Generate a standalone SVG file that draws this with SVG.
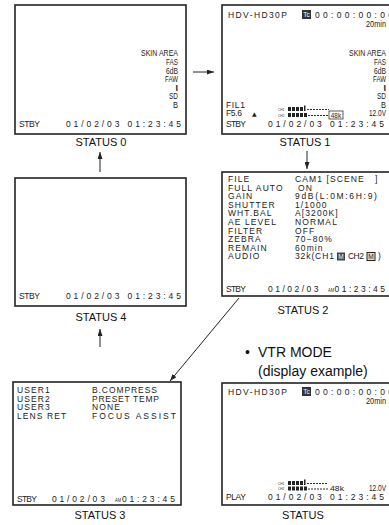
<svg xmlns="http://www.w3.org/2000/svg" width="389" height="525" viewBox="0 0 389 525">
<style>
.box{fill:#fff;stroke:#222;stroke-width:1.6}
.lcd{font-family:"Liberation Sans",Arial,sans-serif;font-size:8.5px;letter-spacing:1.1px;fill:#222}
.cnd{font-family:"Liberation Sans",Arial,sans-serif;font-size:9px;fill:#222;text-anchor:end}
.lbl{font-family:"Liberation Sans",Arial,sans-serif;font-size:11px;fill:#111;text-anchor:middle}
.big{font-family:"Liberation Sans",Arial,sans-serif;font-size:14px;fill:#111}
.tiny{font-family:"Liberation Sans",Arial,sans-serif;font-size:3.2px;fill:#333}
.blk{fill:#222}
.dash{stroke:#333;stroke-width:1;stroke-dasharray:2 1;fill:none}
.con{stroke:#222;stroke-width:1;fill:none}
.sm{font-family:"Liberation Sans",Arial,sans-serif;font-size:6.5px;text-anchor:middle}
</style>
<defs>
<marker id="ah" markerWidth="7" markerHeight="5" refX="7" refY="2.5" orient="auto" markerUnits="userSpaceOnUse">
<path d="M0,0 L7,2.5 L0,5 Z" fill="#222"/>
</marker>
</defs>

<g id="s0">
<rect class="box" x="15" y="5" width="171" height="129"/>
<text class="cnd" x="178" y="56" textLength="37" lengthAdjust="spacingAndGlyphs">SKIN AREA</text>
<text class="cnd" x="178" y="65" textLength="12" lengthAdjust="spacingAndGlyphs">FAS</text>
<text class="cnd" x="178" y="73.5" textLength="12" lengthAdjust="spacingAndGlyphs">6dB</text>
<text class="cnd" x="178" y="82" textLength="13" lengthAdjust="spacingAndGlyphs">FAW</text>
<text class="cnd" x="178" y="90.5" font-weight="bold">I</text>
<text class="cnd" x="178" y="99" textLength="9" lengthAdjust="spacingAndGlyphs">SD</text>
<text class="cnd" x="178" y="107.5" textLength="5" lengthAdjust="spacingAndGlyphs">B</text>
<text class="lcd" x="19" y="127" textLength="22">STBY</text>
<text class="lcd" x="66" y="127" textLength="116">01/02/03 01:23:45</text>
<text class="lbl" x="101" y="146">STATUS 0</text>
</g>

<g id="s1">
<rect class="box" x="222" y="5" width="172" height="129"/>
<text class="lcd" x="228" y="18" textLength="60">HDV-HD30P</text>
<rect x="302" y="10" width="9" height="9" fill="#333"/>
<text class="sm" x="306.5" y="17.3" fill="#fff">Tc</text>
<text class="lcd" x="315" y="18" textLength="79">00:00:00:00</text>
<text class="cnd" x="386" y="27" textLength="20" lengthAdjust="spacingAndGlyphs">20min</text>
<text class="cnd" x="386" y="56" textLength="37" lengthAdjust="spacingAndGlyphs">SKIN AREA</text>
<text class="cnd" x="386" y="65" textLength="12" lengthAdjust="spacingAndGlyphs">FAS</text>
<text class="cnd" x="386" y="73.5" textLength="12" lengthAdjust="spacingAndGlyphs">6dB</text>
<text class="cnd" x="386" y="82" textLength="13" lengthAdjust="spacingAndGlyphs">FAW</text>
<text class="cnd" x="386" y="90.5" font-weight="bold">I</text>
<text class="cnd" x="386" y="99" textLength="9" lengthAdjust="spacingAndGlyphs">SD</text>
<text class="cnd" x="386" y="107.5" textLength="5" lengthAdjust="spacingAndGlyphs">B</text>
<text class="lcd" x="226" y="107.5" textLength="20">FIL1</text>
<text class="lcd" x="226" y="116" textLength="17">F5.6</text>
<text x="252" y="116" font-family="DejaVu Sans,sans-serif" font-size="6" fill="#222">▲</text>
<text class="cnd" x="386" y="116" textLength="17" lengthAdjust="spacingAndGlyphs">12.0V</text>
<text class="tiny" x="278" y="110.5">CH1</text>
<text class="tiny" x="278" y="116.5">CH2</text>
<rect class="blk" x="288" y="107" width="3" height="4"/>
<rect class="blk" x="292" y="107" width="3" height="4"/>
<rect class="blk" x="296" y="107" width="3" height="4"/>
<rect class="blk" x="300" y="107" width="3" height="4"/>
<rect class="blk" x="304" y="105.5" width="1.5" height="5.5"/>
<line class="dash" x1="307" y1="109.5" x2="329" y2="109.5"/>
<rect class="blk" x="288" y="113" width="3" height="4"/>
<rect class="blk" x="292" y="113" width="3" height="4"/>
<rect class="blk" x="296" y="113" width="3" height="4"/>
<rect class="blk" x="300" y="113" width="3" height="4"/>
<rect class="blk" x="304" y="113" width="3" height="4"/>
<line class="dash" x1="308" y1="115.5" x2="329" y2="115.5"/>
<rect x="329" y="111" width="14" height="8" fill="none" stroke="#333" stroke-width="0.8"/>
<text class="sm" x="336" y="117.5" fill="#222">48k</text>
<text class="lcd" x="226" y="127" textLength="21">STBY</text>
<text class="lcd" x="268" y="127" textLength="117">01/02/03 01:23:45</text>
<text class="lbl" x="305" y="146">STATUS 1</text>
</g>

<g id="s2">
<rect class="box" x="222" y="172" width="172" height="124"/>
<text class="lcd" x="228" y="182">FILE</text>
<text class="lcd" x="228" y="190.6">FULL AUTO</text>
<text class="lcd" x="228" y="199.2">GAIN</text>
<text class="lcd" x="228" y="207.8">SHUTTER</text>
<text class="lcd" x="228" y="216.4">WHT.BAL</text>
<text class="lcd" x="228" y="225">AE LEVEL</text>
<text class="lcd" x="228" y="233.6">FILTER</text>
<text class="lcd" x="228" y="242.2">ZEBRA</text>
<text class="lcd" x="228" y="250.8">REMAIN</text>
<text class="lcd" x="228" y="259.4">AUDIO</text>
<text class="lcd" x="295" y="182" xml:space="preserve">CAM1 [SCENE   ]</text>
<text class="lcd" x="298" y="190.6">ON</text>
<text class="lcd" x="295" y="199.2" textLength="83">9dB(L:0M:6H:9)</text>
<text class="lcd" x="295" y="207.8">1/1000</text>
<text class="lcd" x="295" y="216.4">A[3200K]</text>
<text class="lcd" x="295" y="225">NORMAL</text>
<text class="lcd" x="295" y="233.6">OFF</text>
<text class="lcd" x="295" y="242.2">70−80%</text>
<text class="lcd" x="295" y="250.8">60min</text>
<text class="lcd" x="295" y="259.4" textLength="40">32k(CH1</text>
<rect x="337" y="252.5" width="8" height="8" fill="#444"/>
<text class="sm" x="341" y="259" fill="#fff">M</text>
<text class="lcd" x="348" y="259.4" textLength="17">CH2</text>
<rect x="367" y="252.5" width="8" height="8" fill="#ddd" stroke="#222" stroke-width="1"/>
<text class="sm" x="371" y="259" fill="#222">M</text>
<text class="lcd" x="378" y="259.4">)</text>
<text class="lcd" x="226" y="292" textLength="21">STBY</text>
<text class="lcd" x="268" y="292" textLength="51.5">01/02/03</text>
<text x="328" y="291.5" font-family="Liberation Sans,Arial,sans-serif" font-size="5" fill="#222" textLength="6" lengthAdjust="spacingAndGlyphs">AM</text>
<text class="lcd" x="334.5" y="292" textLength="51.5">01:23:45</text>
<text class="lbl" x="303" y="314">STATUS 2</text>
</g>

<g id="s4">
<rect class="box" x="15" y="178" width="171" height="128"/>
<text class="lcd" x="19" y="299" textLength="22">STBY</text>
<text class="lcd" x="66" y="299" textLength="116">01/02/03 01:23:45</text>
<text class="lbl" x="101" y="321">STATUS 4</text>
</g>

<g id="s3">
<rect class="box" x="13" y="382" width="168" height="123"/>
<text class="lcd" x="17" y="393">USER1</text>
<text class="lcd" x="17" y="401.6">USER2</text>
<text class="lcd" x="17" y="410.2">USER3</text>
<text class="lcd" x="17" y="418.8">LENS RET</text>
<text class="lcd" x="92" y="393" textLength="66">B.COMPRESS</text>
<text class="lcd" x="92" y="401.6" textLength="68">PRESET TEMP</text>
<text class="lcd" x="92" y="410.2">NONE</text>
<text class="lcd" x="92" y="418.8" textLength="85">FOCUS ASSIST</text>
<text class="lcd" x="17" y="502" textLength="21">STBY</text>
<text class="lcd" x="52" y="502" textLength="54">01/02/03</text>
<text x="115" y="501.5" font-family="Liberation Sans,Arial,sans-serif" font-size="5" fill="#222" textLength="6" lengthAdjust="spacingAndGlyphs">AM</text>
<text class="lcd" x="122" y="502" textLength="54">01:23:45</text>
<text class="lbl" x="100" y="519">STATUS 3</text>
</g>

<g id="vtr-note">
<text class="big" x="245" y="357">•</text>
<text class="big" x="258" y="357">VTR MODE</text>
<text class="big" x="258" y="376">(display example)</text>
</g>

<g id="vtr">
<rect class="box" x="222" y="383" width="172" height="122"/>
<text class="lcd" x="228" y="395" textLength="60">HDV-HD30P</text>
<rect x="302" y="387" width="9" height="9" fill="#333"/>
<text class="sm" x="306.5" y="394.3" fill="#fff">Tc</text>
<text class="lcd" x="315" y="395" textLength="79">00:00:00:00</text>
<text class="cnd" x="386" y="404" textLength="20" lengthAdjust="spacingAndGlyphs">20min</text>
<text class="tiny" x="278" y="484.5">CH1</text>
<text class="tiny" x="278" y="490">CH2</text>
<rect class="blk" x="288" y="481" width="3" height="4"/>
<rect class="blk" x="292" y="481" width="3" height="4"/>
<rect class="blk" x="296" y="481" width="3" height="4"/>
<rect class="blk" x="300" y="481" width="3" height="4"/>
<rect class="blk" x="304" y="479.5" width="1.5" height="5.5"/>
<line class="dash" x1="307" y1="483.5" x2="328" y2="483.5"/>
<rect class="blk" x="288" y="486.5" width="3" height="4"/>
<rect class="blk" x="292" y="486.5" width="3" height="4"/>
<rect class="blk" x="296" y="486.5" width="3" height="4"/>
<rect class="blk" x="300" y="486.5" width="3" height="4"/>
<rect class="blk" x="304" y="486.5" width="3" height="4"/>
<line class="dash" x1="308" y1="489" x2="328" y2="489"/>
<text x="330" y="491" font-family="Liberation Sans,Arial,sans-serif" font-size="7" fill="#222" textLength="14" lengthAdjust="spacingAndGlyphs">48k</text>
<text class="cnd" x="386" y="491" textLength="17" lengthAdjust="spacingAndGlyphs">12.0V</text>
<text class="lcd" x="226" y="500" textLength="21">PLAY</text>
<text class="lcd" x="268" y="500" textLength="117">01/02/03 01:23:45</text>
<text class="lbl" x="303" y="519">STATUS</text>
</g>

<g id="connectors">
<line class="con" x1="193" y1="72" x2="214" y2="72" marker-end="url(#ah)"/>
<line class="con" x1="307" y1="151" x2="307" y2="169" marker-end="url(#ah)"/>
<line class="con" x1="100" y1="172" x2="100" y2="152" marker-end="url(#ah)"/>
<line class="con" x1="100" y1="347" x2="100" y2="329" marker-end="url(#ah)"/>
<line class="con" x1="239" y1="298" x2="170" y2="381" marker-end="url(#ah)"/>
</g>
</svg>
